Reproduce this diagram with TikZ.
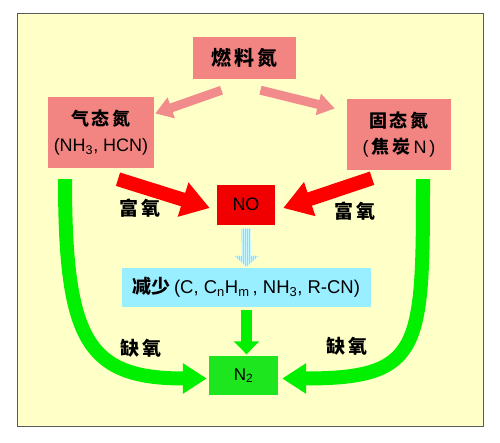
\documentclass[tikz,border=0pt]{standalone}
\usepackage{fontspec}
\setmainfont{Liberation Sans}
\newfontfamily\cjk{Noto Sans CJK SC}
\usetikzlibrary{arrows.meta,calc}
\definecolor{bgc}{RGB}{255,255,200}
\definecolor{pinkbox}{RGB}{242,132,130}
\definecolor{pinkarr}{RGB}{242,140,140}
\definecolor{redc}{RGB}{255,0,0}
\definecolor{nobox}{RGB}{240,0,0}
\definecolor{cyanbox}{RGB}{153,238,255}
\definecolor{cyanlt}{RGB}{200,246,252}
\definecolor{cyanln}{RGB}{130,225,240}
\definecolor{greenc}{RGB}{0,240,0}
\definecolor{n2box}{RGB}{30,230,30}
\newcommand{\cjkb}{\cjk\bfseries}
\tikzset{
  box/.style={draw=none, inner sep=0pt, align=center},
  pinkb/.style={box, fill=pinkbox, font=\fontsize{18}{26}\selectfont},
  lbl/.style={inner sep=0pt, font=\cjkb\fontsize{19}{22}\selectfont},
  pinkarrow/.style={draw=pinkarr, line width=9, -{Triangle[length=17,width=21]}},
  redarrow/.style={draw=redc, line width=14, -{Triangle[length=28,width=34]}},
  greenarrow/.style={draw=greenc, line width=11, -{Triangle[length=13,width=25]}},
  greencurve/.style={draw=greenc, line width=14, -{Triangle[length=24,width=29]}},
}
\begin{document}
\begin{tikzpicture}[x=1pt,y=-1pt]
\useasboundingbox (0,0) rectangle (500,442);
\fill[white] (0,0) rectangle (500,442);
\draw[fill=bgc, draw=gray!70!black, line width=1] (17,13) rectangle (483,426);

\node[pinkb, minimum width=103, minimum height=42] (fuel) at (244.5,58) {{\cjkb\fontsize{20}{24}\selectfont 燃\,料\,氮}};
\node[pinkb, minimum width=106, minimum height=71] (gas) at (101,132.5) {{\cjkb 气\,态\,氮}\\(NH\textsubscript{3}, HCN)};
\node[pinkb, minimum width=104, minimum height=71] (solid) at (399,134.5) {{\cjkb 固\,态\,氮}\\(\,{\cjkb 焦\,炭}\,N\,)};
\node[box, fill=nobox, minimum width=58, minimum height=40, font=\fontsize{18}{20}\selectfont] (no) at (246,204.5) {NO};
\node[box, fill=cyanbox, minimum width=249, minimum height=39, font=\fontsize{18.5}{20}\selectfont] (red) at (246.5,287.5) {{\cjkb\fontsize{19}{20}\selectfont 减少}\,(C, C\textsubscript{n}H\textsubscript{m}\,, NH\textsubscript{3}, R-CN)};
\node[box, fill=n2box, minimum width=69, minimum height=39, font=\fontsize{17}{20}\selectfont] (n2) at (243.5,375.5) {N\textsubscript{2}};

% pink arrows
\draw[pinkarrow] ($(fuel.south)+(-23,11)$) -- ($(gas.east)+(1,-19)$);
\draw[pinkarrow] ($(fuel.south)+(16,11)$) -- ($(solid.west)+(-12,-26)$);

% red arrows
\coordinate (rl) at ($(gas.south)+(17,11)$);
\coordinate (rr) at ($(solid.south)+(-27,8)$);
\draw[redarrow] (rl) -- ($(no.west)+(-7,3.5)$);
\draw[redarrow] (rr) -- ($(no.east)+(8,3.5)$);

% striped cyan arrow
\coordinate (cs) at ($(no.south)+(0,4)$);
\coordinate (ct) at ($(red.north)+(0,-1)$);
\begin{scope}
\clip ($(cs)+(-4.5,0)$) -- ($(cs)+(4.5,0)$) -- ($(ct)+(4.5,-11)$) -- ($(ct)+(12,-11)$) -- (ct) -- ($(ct)+(-12,-11)$) -- ($(ct)+(-4.5,-11)$) -- cycle;
\fill[cyanlt] (230,224) rectangle (262,270);
\foreach \i in {0,...,15} \draw[cyanln, line width=1] ({231+2*\i},224) -- ++(0,46);
\end{scope}

% green arrows
\coordinate (gs) at ($(red.south)+(0,3)$);
\draw[greenarrow] (gs) -- ($(gs |- n2.north)+(0,-1.5)$);
\coordinate (gl) at ($(gas.south)+(-36,11)$);
\coordinate (gr) at ($(solid.south)+(24,9)$);
\draw[greencurve] (gl) .. controls +(0,161) and +(-120,0) .. ($(n2.west)+(-2,3)$);
\draw[greencurve] (gr) .. controls +(0,170) and +(140,0) .. ($(n2.east)+(4,3)$);

% labels
\node[lbl] (l1) at (140,208) {富\,氧};
\node[lbl] (l2) at (355,211) {富\,氧};
\node[lbl] (l3) at (141,348) {缺\,氧};
\node[lbl] (l4) at (347,346) {缺\,氧};
\end{tikzpicture}
\end{document}
